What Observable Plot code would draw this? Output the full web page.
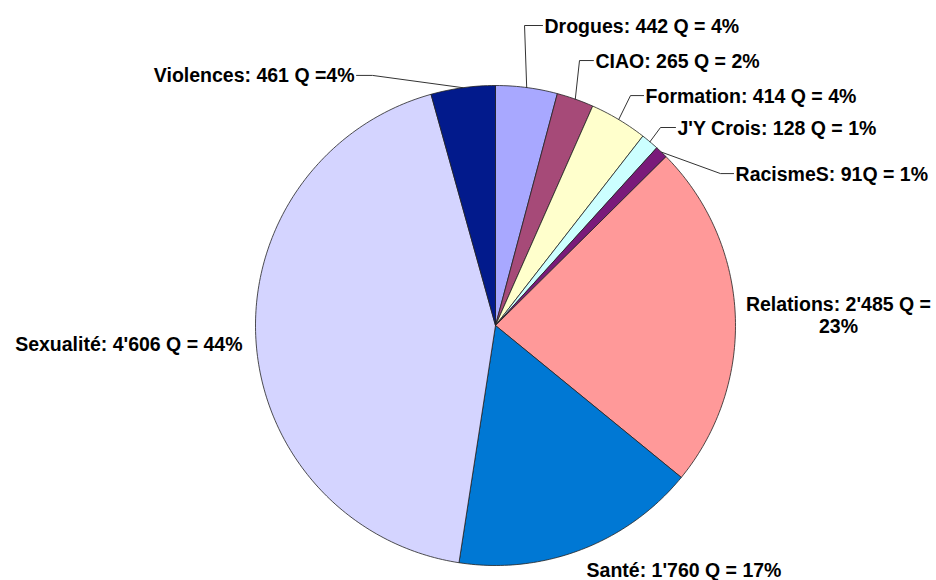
<!DOCTYPE html>
<html>
<head>
<meta charset="utf-8">
<script src="https://cdn.jsdelivr.net/npm/d3@7"></script>
<script src="https://cdn.jsdelivr.net/npm/@observablehq/plot@0.6"></script>
<style>
  html, body { margin: 0; padding: 0; background: #fff; }
  #chart svg { display: block; }
</style>
</head>
<body>
<div id="chart"></div>
<script>
// ---- data ----
const categories = ["Drogues", "CIAO", "Formation", "J'Y Crois", "RacismeS", "Relations", "Santé", "Sexualité", "Violences"];
const questions = [442, 265, 414, 128, 91, 2485, 1760, 4606, 461];
const labels = [
  "Drogues: 442 Q = 4%",
  "CIAO: 265 Q = 2%",
  "Formation: 414 Q = 4%",
  "J'Y Crois: 128 Q = 1%",
  "RacismeS: 91Q = 1%",
  "Relations: 2'485 Q =\n23%",
  "Santé: 1'760 Q = 17%",
  "Sexualité: 4'606 Q = 44%",
  "Violences: 461 Q =4%"
];
const colors = ["#A8A8FF", "#A64A78", "#FFFFCC", "#CCFFFF", "#7A1A7A", "#FF9999", "#0078D4", "#D4D4FF", "#021A8C"];

// ---- label layout (unit-circle coordinates; leader: elbow -> end, text after end) ----
const layout = {
  "Drogues":   {elbow: [0.121, 1.25],  end: [0.196, 1.25],  anchor: "start"},
  "CIAO":      {elbow: [0.35, 1.104],  end: [0.408, 1.104], anchor: "start"},
  "Formation": {elbow: [0.5625, 0.958], end: [0.617, 0.958], anchor: "start"},
  "J'Y Crois": {elbow: [0.6875, 0.825], end: [0.75, 0.825],  anchor: "start"},
  "RacismeS":  {elbow: [0.9375, 0.633], end: [0.992, 0.633], anchor: "start"},
  "Relations": {text: [1.429, 0.046], anchor: "middle"},
  "Santé":     {text: [0.371, -1.017], anchor: "start"},
  "Sexualité": {text: [-1.054, -0.075], anchor: "end"},
  "Violences": {elbow: [-0.5125, 1.042], end: [-0.579, 1.042], anchor: "end"}
};

// ---- geometry from data ----
const arcs = d3.pie().sort(null).value(d => d)(questions);
const slicePts = [];
arcs.forEach((a, i) => {
  const name = categories[i];
  slicePts.push({name, x: 0, y: 0});
  const n = Math.max(2, Math.ceil((a.endAngle - a.startAngle) / (Math.PI / 180)));
  for (let k = 0; k <= n; k++) {
    const t = a.startAngle + (a.endAngle - a.startAngle) * k / n;
    slicePts.push({name, x: Math.sin(t), y: Math.cos(t)});
  }
  slicePts.push({name, x: 0, y: 0});
});

const leaderPts = [];
const textData = [];
arcs.forEach((a, i) => {
  const name = categories[i];
  const L = layout[name];
  const mid = (a.startAngle + a.endAngle) / 2;
  if (L.elbow) {
    leaderPts.push({name, x: Math.sin(mid), y: Math.cos(mid)});
    leaderPts.push({name, x: L.elbow[0], y: L.elbow[1]});
    leaderPts.push({name, x: L.end[0], y: L.end[1]});
    textData.push({name, text: labels[i], x: L.end[0], y: L.end[1], anchor: L.anchor, dx: L.anchor === "end" ? -2 : 2});
  } else {
    textData.push({name, text: labels[i], x: L.text[0], y: L.text[1], anchor: L.anchor, dx: 0});
  }
});

const font = "'Liberation Sans', Arial, Helvetica, sans-serif";
const textOpts = (anchor, dx) => ({
  x: "x", y: "y", text: "text", textAnchor: anchor, dx,
  fontSize: 19.5, fontWeight: "bold", fontFamily: font, fill: "black", lineHeight: 1.13
});

const chart = Plot.plot({
  width: 936,
  height: 580,
  margin: 0,
  style: {background: "#fff", fontFamily: font},
  x: {domain: [-1, 1], range: [255, 735], axis: null},
  y: {domain: [-1, 1], range: [565, 85], axis: null},
  color: {domain: categories, range: colors},
  marks: [
    Plot.line(slicePts, {x: "x", y: "y", z: "name", fill: "name", stroke: "#222", strokeWidth: 0.8, strokeLinejoin: "round"}),
    Plot.line(leaderPts, {x: "x", y: "y", z: "name", stroke: "#333", strokeWidth: 1}),
    Plot.text(textData.filter(d => d.anchor === "start"), textOpts("start", 2)),
    Plot.text(textData.filter(d => d.anchor === "end" && d.dx !== 0), textOpts("end", -2)),
    Plot.text(textData.filter(d => d.anchor === "end" && d.dx === 0), textOpts("end", 0)),
    Plot.text(textData.filter(d => d.anchor === "middle"), textOpts("middle", 0))
  ]
});
document.getElementById("chart").appendChild(chart);
</script>
</body>
</html>
